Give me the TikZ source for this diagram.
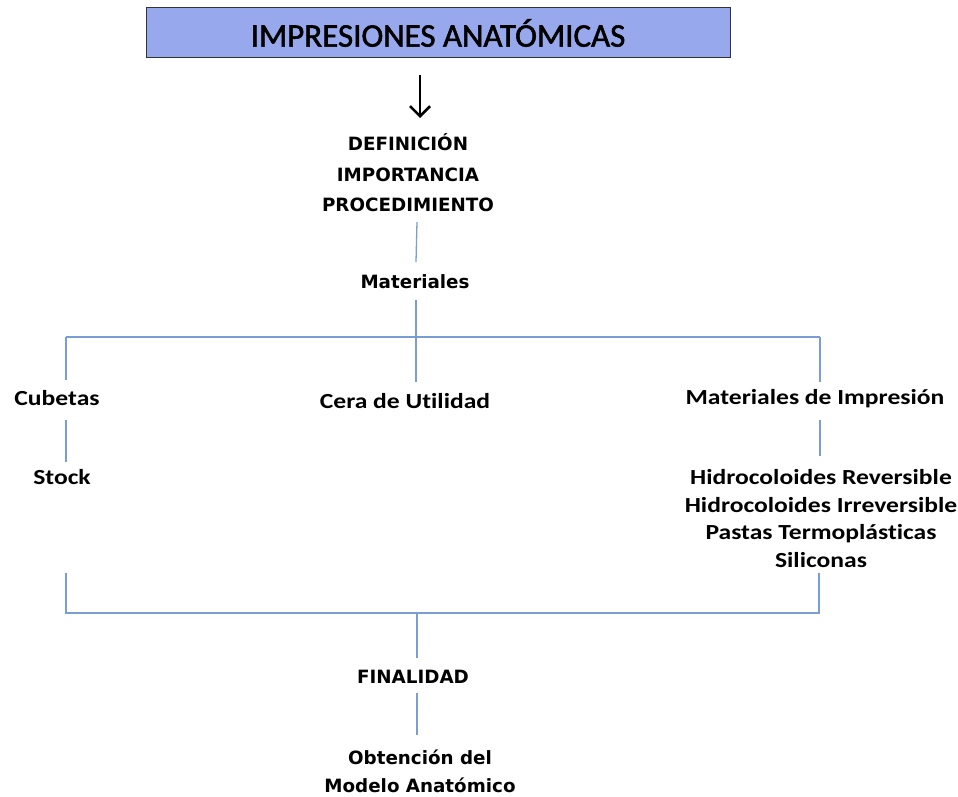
\documentclass[tikz,border=0pt]{standalone}
\usepackage{fontspec}
\setmainfont{Carlito}[Ligatures=NoCommon]
\newfontfamily\verd{DejaVu Sans}
\newfontfamily\calw{Carlito}[FakeStretch=1.19, Ligatures=NoCommon]
\newfontfamily\caltitle{Carlito}[FakeBold=1.6, Ligatures=NoCommon]
\usetikzlibrary{arrows.meta}
\definecolor{boxfill}{HTML}{97A8EC}
\definecolor{linkblue}{HTML}{7A9ED4}
\tikzset{
  cal/.style={font=\calw\fontsize{21.5}{27.7}\selectfont\bfseries, inner sep=0pt, align=center},
  ver/.style={font=\verd\fontsize{18.3}{30.5}\selectfont\bfseries, inner sep=0pt, align=center},
  link/.style={draw=linkblue, line width=1.3pt},
}
\begin{document}
\begin{tikzpicture}[x=1pt,y=-1pt]
\useasboundingbox (0,0) rectangle (958,797);
\node[draw=black!80, fill=boxfill, line width=1pt, minimum width=584pt, minimum height=50pt, inner sep=0pt,
  font=\caltitle\fontsize{33}{36}\selectfont] (title) at (438,33) {IMPRESIONES ANATÓMICAS};
\coordinate (arA) at (420,75);
\coordinate (arB) at (420,118);
\draw[-{Straight Barb[length=10pt,width=20pt]}, line width=2.6pt] (arA) -- (arB);
\node[ver] (def) at (408,173) {DEFINICIÓN\\IMPORTANCIA\\PROCEDIMIENTO};
\node[ver] (mat) at (415,282) {Materiales};
\node[cal] (cub) at (57,398) {Cubetas};
\node[cal] (cera) at (405,401) {Cera de Utilidad};
\node[cal] (mimp) at (815,399) {Materiales de Impresión};
\node[cal] (stock) at (62,477) {Stock};
\node[cal] (hidro) at (821,518.5) {Hidrocoloides Reversible\\Hidrocoloides Irreversible\\Pastas Termoplásticas\\Siliconas};
\node[ver] (fin) at (413,677) {FINALIDAD};
\node[ver, font=\verd\fontsize{18.3}{28}\selectfont\bfseries] (obt) at (420,771) {Obtención del\\Modelo Anatómico};
% connectors
\coordinate (t1) at (417,222); \coordinate (t2) at (416,262);
\draw[link] (t1) -- (t2);
\coordinate (m1) at (416,300); \coordinate (m2) at (416,382);
\draw[link] (m1) -- (m2);
\coordinate (hL) at (66,337); \coordinate (hR) at (820,337);
\draw[link] (hL) -- (hR);
\coordinate (cL) at (66,380); \coordinate (cR) at (820,382);
\draw[link] (hL) -- (cL);
\draw[link] (hR) -- (cR);
\coordinate (s1) at (66,420); \coordinate (s2) at (66,462);
\draw[link] (s1) -- (s2);
\coordinate (r1) at (820,420); \coordinate (r2) at (820,456);
\draw[link] (r1) -- (r2);
\coordinate (bL1) at (66,573); \coordinate (bL2) at (66,613);
\coordinate (bR1) at (819,573); \coordinate (bR2) at (819,613);
\draw[link] (bL1) -- (bL2) -- (bR2) -- (bR1);
\coordinate (f1) at (417,613); \coordinate (f2) at (417,658);
\draw[link] (f1) -- (f2);
\coordinate (g1) at (417,693); \coordinate (g2) at (417,735);
\draw[link] (g1) -- (g2);
\end{tikzpicture}
\end{document}
